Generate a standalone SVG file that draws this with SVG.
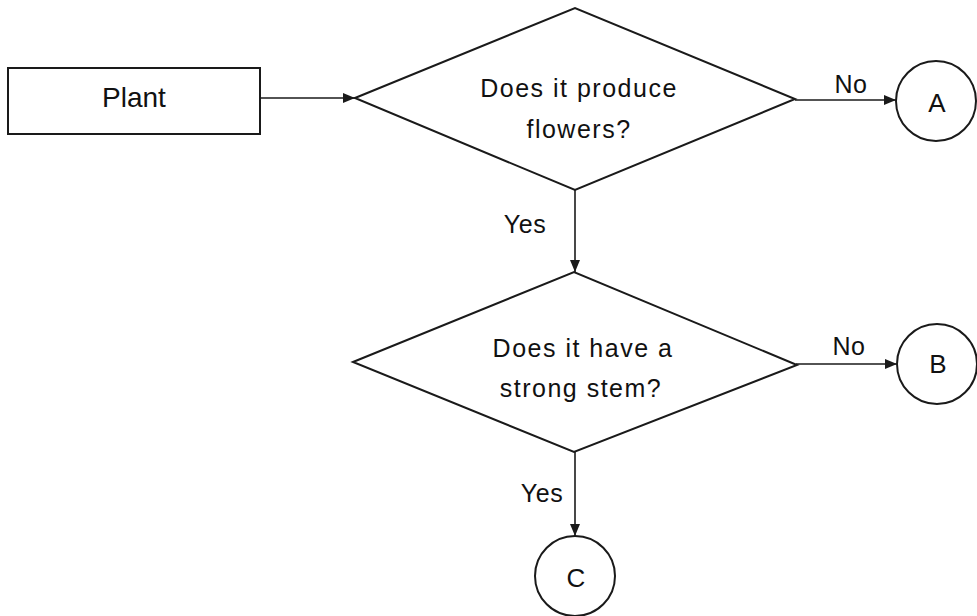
<svg xmlns="http://www.w3.org/2000/svg" width="977" height="616" viewBox="0 0 977 616">
<style>
  .shape { fill: #ffffff; stroke: #1a1a1a; stroke-width: 2; }
  .conn { fill: none; stroke: #1a1a1a; stroke-width: 1.6; marker-end: url(#arrow); }
  text { font-family: "Liberation Sans", Arial, sans-serif; fill: #111111; text-anchor: middle; }
  .t { font-size: 25px; letter-spacing: 1.5px; }
  .lbl { font-size: 25px; letter-spacing: 0.5px; }
</style>
<defs>
  <marker id="arrow" viewBox="0 0 12 10" refX="12" refY="5" markerWidth="12" markerHeight="10" markerUnits="userSpaceOnUse" orient="auto">
    <path d="M0,0 L12,5 L0,10 Z" fill="#1a1a1a"/>
  </marker>
</defs>
<rect width="977" height="616" fill="#ffffff"/>
<g id="connectors">
  <line class="conn" x1="261" y1="98" x2="355" y2="98"/>
  <line class="conn" x1="795" y1="100" x2="896" y2="100"/>
  <line class="conn" x1="575" y1="190" x2="575" y2="272"/>
  <line class="conn" x1="796" y1="364" x2="897" y2="364"/>
  <line class="conn" x1="575" y1="452" x2="575" y2="536"/>
  <text class="lbl" x="851" y="93">No</text>
  <text class="lbl" x="525" y="233">Yes</text>
  <text class="lbl" x="849" y="355">No</text>
  <text class="lbl" x="542" y="502">Yes</text>
</g>
<g id="plant">
  <rect class="shape" x="8" y="68" width="252" height="66"/>
  <text style="font-size:28px" x="134" y="107">Plant</text>
</g>
<g id="q1">
  <polygon class="shape" points="355,98 575,8 795,99 575,190"/>
  <text class="t" x="579" y="97">Does it produce</text>
  <text class="t" x="579" y="138">flowers?</text>
</g>
<g id="q2">
  <polygon class="shape" points="353,362 574,272 797,365 574,452"/>
  <text class="t" x="583" y="357">Does it have a</text>
  <text class="t" x="581" y="397">strong stem?</text>
</g>
<g id="a">
  <circle class="shape" cx="936" cy="101" r="40"/>
  <text style="font-size:26px" x="937" y="112">A</text>
</g>
<g id="b">
  <circle class="shape" cx="937" cy="364" r="40"/>
  <text style="font-size:26px" x="938" y="373">B</text>
</g>
<g id="c">
  <circle class="shape" cx="575" cy="576" r="40"/>
  <text style="font-size:26px" x="576" y="587">C</text>
</g>
</svg>
